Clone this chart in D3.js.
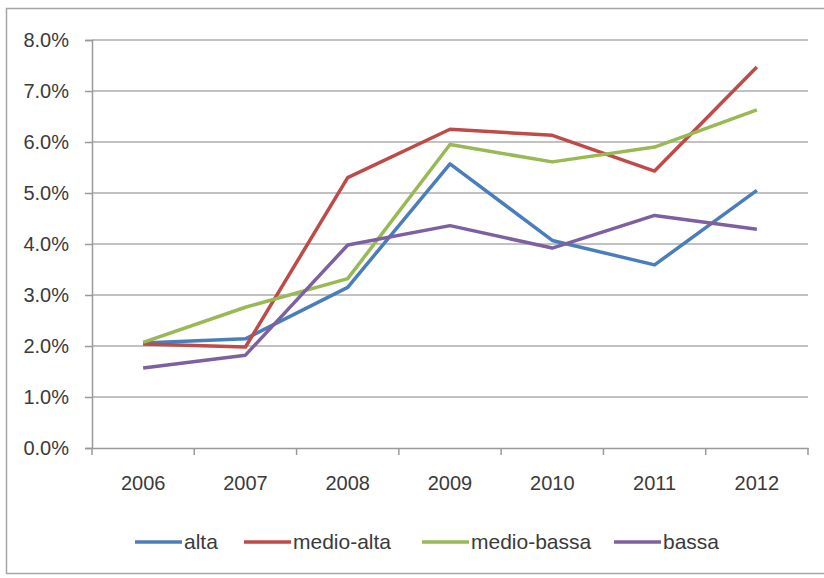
<!DOCTYPE html>
<html>
<head>
<meta charset="utf-8">
<script src="https://cdn.jsdelivr.net/npm/d3@7/dist/d3.min.js"></script>
<style>
  html, body { margin: 0; padding: 0; background: #fff; }
  svg { display: block; }
  text { font-family: "Liberation Sans", Arial, sans-serif; fill: #3a3a3a; }
</style>
</head>
<body>
<svg id="chart" width="824" height="578"></svg>
<script>
// Years on the category axis
const years = ["2006", "2007", "2008", "2009", "2010", "2011", "2012"];

// Percentage values per group (in %)
const alta        = [2.06, 2.14, 3.15, 5.57, 4.07, 3.59, 5.05];
const medioAlta   = [2.04, 1.98, 5.30, 6.25, 6.13, 5.43, 7.47];
const medioBassa  = [2.07, 2.76, 3.32, 5.95, 5.61, 5.90, 6.63];
const bassa       = [1.57, 1.82, 3.98, 4.36, 3.92, 4.56, 4.29];

const seriesNames  = ["alta", "medio-alta", "medio-bassa", "bassa"];
const seriesColors = ["#4a7ebb", "#be4b48", "#98b954", "#7d60a0"];
const seriesValues = [alta, medioAlta, medioBassa, bassa];

// Y axis ticks 0.0% .. 8.0%
const yTicks = [0, 1, 2, 3, 4, 5, 6, 7, 8];

const FONT = "\"Liberation Sans\", Arial, sans-serif";
const svg = d3.select("#chart");

// Outer chart frame
svg.append("rect")
  .attr("x", 6.5).attr("y", 8.5)
  .attr("width", 830).attr("height", 565)
  .attr("fill", "none").attr("stroke", "#a6a6a6").attr("stroke-width", 1.5);

const plot = { left: 92, right: 808, top: 40, bottom: 448 };

const x = d3.scaleBand().domain(years).range([plot.left, plot.right]).padding(0);
const y = d3.scaleLinear().domain([0, 8]).range([plot.bottom, plot.top]);

// Horizontal gridlines
svg.append("g")
  .selectAll("line")
  .data(yTicks.filter(d => d > 0))
  .join("line")
  .attr("x1", plot.left).attr("x2", plot.right)
  .attr("y1", d => y(d)).attr("y2", d => y(d))
  .attr("stroke", "#acacac").attr("stroke-width", 1.5);

// Y axis
const yAxis = svg.append("g")
  .attr("transform", `translate(${plot.left},0)`)
  .call(d3.axisLeft(y).tickValues(yTicks).tickFormat(d => d.toFixed(1) + "%").tickSize(7).tickPadding(16));
yAxis.select(".domain").attr("stroke", "#9a9a9a").attr("stroke-width", 1.5);
yAxis.selectAll(".tick line").attr("stroke", "#9a9a9a").attr("stroke-width", 1.5);
yAxis.selectAll(".tick text").attr("font-size", 20).attr("fill", "#3a3a3a")
  .style("font-family", FONT);

// X axis with tick marks at category boundaries
const xAxis = svg.append("g")
  .attr("transform", `translate(0,${plot.bottom})`)
  .call(d3.axisBottom(x).tickSize(0).tickPadding(28));
xAxis.select(".domain").attr("stroke", "#9a9a9a").attr("stroke-width", 1.5);
xAxis.selectAll(".tick text").attr("font-size", 20).attr("fill", "#3a3a3a")
  .style("font-family", FONT);
xAxis.append("g")
  .selectAll("line")
  .data(years.map(d => x(d)).concat([x(years[years.length - 1]) + x.bandwidth()]))
  .join("line")
  .attr("x1", d => d).attr("x2", d => d)
  .attr("y1", 0).attr("y2", 7)
  .attr("stroke", "#9a9a9a").attr("stroke-width", 1.5);

// Series lines
const line = d3.line()
  .x((d, i) => x(years[i]) + x.bandwidth() / 2)
  .y(d => y(d));

svg.append("g")
  .selectAll("path")
  .data(seriesValues)
  .join("path")
  .attr("d", d => line(d))
  .attr("fill", "none")
  .attr("stroke", (d, i) => seriesColors[i])
  .attr("stroke-width", 3.5)
  .attr("stroke-linejoin", "round");

// Legend
const legendX = [135, 244, 422, 614];
const legend = svg.append("g").attr("transform", "translate(0,542)");
const items = legend.selectAll("g")
  .data(seriesNames)
  .join("g")
  .attr("transform", (d, i) => `translate(${legendX[i]},0)`);
items.append("line")
  .attr("x1", 0).attr("x2", 47).attr("y1", 0).attr("y2", 0)
  .attr("stroke", (d, i) => seriesColors[i]).attr("stroke-width", 3.5);
items.append("text")
  .attr("x", 49).attr("y", 0).attr("dy", "0.35em")
  .attr("font-size", 21)
  .style("font-family", FONT)
  .text(d => d);
</script>
</body>
</html>
